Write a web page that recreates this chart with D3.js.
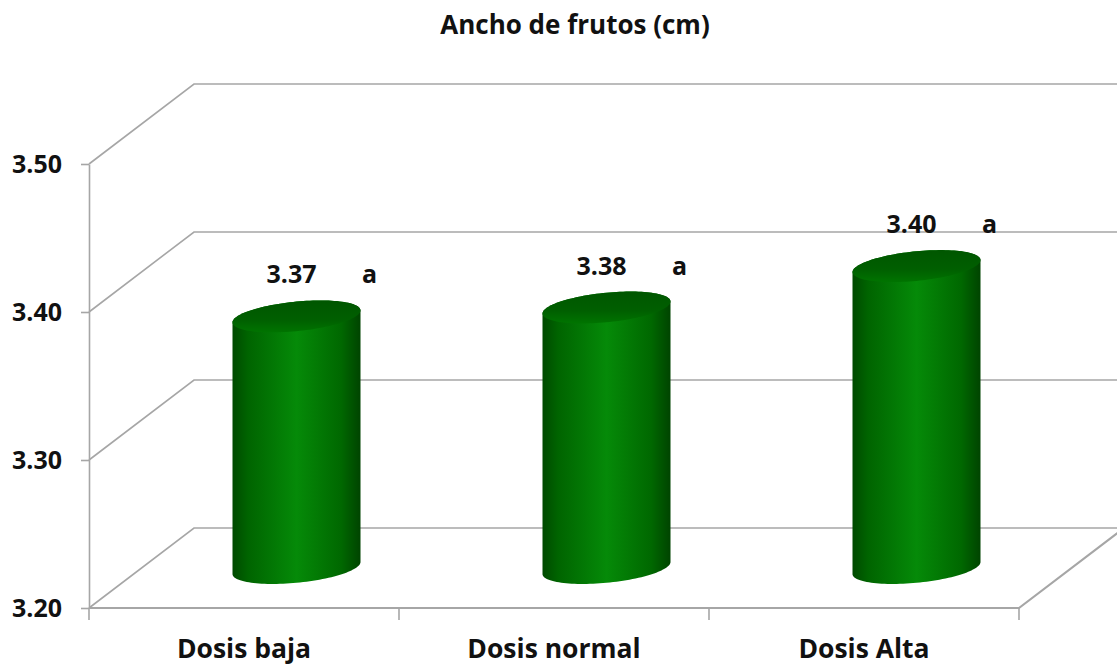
<!DOCTYPE html>
<html>
<head>
<meta charset="utf-8">
<script src="https://cdn.jsdelivr.net/npm/d3@7"></script>
<style>
  html, body { margin: 0; padding: 0; background: #fff; }
  svg { display: block; }
  text { font-family: "Open Sans", "Noto Sans", sans-serif; font-weight: 700; fill: #111; }
</style>
</head>
<body>
<svg id="chart" width="1117" height="667"></svg>
<script>
// ---- data ----
const title = "Ancho de frutos (cm)";
const categories = ["Dosis baja", "Dosis normal", "Dosis Alta"];
const values = [3.37, 3.376, 3.404];
const valueLabels = ["3.37", "3.38", "3.40"];
const letters = ["a", "a", "a"];
const yTicks = [3.20, 3.30, 3.40, 3.50];

// ---- layout ----
const W = 1117, H = 667;
const svg = d3.select("#chart");
const x0 = 89, x1 = 1019, yBottom = 608, yTop = 164;
const depthDx = 105, depthDy = -80;

const x = d3.scaleBand().domain(categories).range([x0, x1]).paddingInner(0).paddingOuter(0);
const y = d3.scaleLinear().domain([3.2, 3.5]).range([yBottom, yTop]);

const grid = "#a6a6a6";
const defs = svg.append("defs");
const bodyGrad = defs.append("linearGradient").attr("id", "body").attr("x1", 0).attr("x2", 1).attr("y1", 0).attr("y2", 0);
[[0, "#004a00"], [0.12, "#006400"], [0.5, "#058a08"], [0.85, "#006800"], [1, "#004400"]]
  .forEach(([o, c]) => bodyGrad.append("stop").attr("offset", o).attr("stop-color", c));
const topGrad = defs.append("linearGradient").attr("id", "top").attr("x1", 0).attr("x2", 0).attr("y1", 0).attr("y2", 1);
[[0, "#005600"], [0.6, "#005f00"], [1, "#007400"]]
  .forEach(([o, c]) => topGrad.append("stop").attr("offset", o).attr("stop-color", c));

// ---- gridlines (left wall diagonals + back wall horizontals) ----
const g = svg.append("g");
yTicks.forEach(t => {
  const yy = y(t);
  g.append("path")
    .attr("d", `M${x0},${yy} L${x0 + depthDx},${yy + depthDy} L${W + 5},${yy + depthDy}`)
    .attr("fill", "none").attr("stroke", grid).attr("stroke-width", 1.6);
});
// floor front edge + right diagonal
g.append("path")
  .attr("d", `M${x0},${yBottom} L${x1},${yBottom} L${x1 + depthDx},${yBottom + depthDy}`)
  .attr("fill", "none").attr("stroke", grid).attr("stroke-width", 2.2);
// value axis
const yAxis = d3.axisLeft(y).tickValues(yTicks).tickFormat(d3.format(".2f")).tickSizeInner(8).tickSizeOuter(0).tickPadding(10);
const ya = svg.append("g").attr("transform", `translate(${x0},0)`).call(yAxis);
ya.select(".domain").attr("stroke", grid).attr("stroke-width", 1.6);
ya.selectAll(".tick line").attr("stroke", grid).attr("stroke-width", 1.6);
ya.selectAll(".tick text").attr("font-size", 25).attr("font-weight", 700).attr("fill", "#111")
  .attr("font-family", "Open Sans").attr("x", -27);
// category axis
const xTickPos = [x0].concat(categories.map(c => x(c) + x.bandwidth()));
xTickPos.forEach(px => {
  g.append("line").attr("x1", px).attr("x2", px).attr("y1", yBottom).attr("y2", yBottom + 12)
    .attr("stroke", grid).attr("stroke-width", 1.6);
});
svg.append("g").selectAll("text").data(categories).join("text")
  .attr("x", d => x(d) + x.bandwidth() / 2)
  .attr("y", 658)
  .attr("text-anchor", "middle")
  .attr("font-size", 26.5)
  .text(d => d);

// ---- cylinders ----
const rx = 64, ry = 14.8, shear = 6;
function ellipsePts(cx, cy, t0, t1, n) {
  const pts = [];
  for (let i = 0; i <= n; i++) {
    const t = t0 + (t1 - t0) * i / n;
    pts.push([cx + rx * Math.cos(t), cy + ry * Math.sin(t) - shear * Math.cos(t)]);
  }
  return pts;
}
const line = d3.line();
const bars = svg.append("g");
categories.forEach((c, i) => {
  const cx = x(c) + x.bandwidth() / 2 + depthDx / 2;
  const cyTop = y(values[i]) + depthDy / 2;
  const cyBot = y(3.2) + depthDy / 2;
  const bodyPts = [];
  bodyPts.push([cx - rx, cyTop + shear]);
  ellipsePts(cx, cyBot, Math.PI, 0, 60).forEach(p => bodyPts.push(p));
  ellipsePts(cx, cyTop, 0, -Math.PI, 60).forEach(p => bodyPts.push(p));
  bars.append("path").attr("d", line(bodyPts) + "Z").attr("fill", "url(#body)");
  const topPts = ellipsePts(cx, cyTop, 0, 2 * Math.PI, 120);
  bars.append("path").attr("d", line(topPts) + "Z").attr("fill", "url(#top)");
  const topEdge = cyTop - Math.sqrt(ry * ry + shear * shear);
  svg.append("text").attr("x", cx - 5).attr("y", topEdge - 17).attr("text-anchor", "middle")
    .attr("font-size", 25).text(valueLabels[i]);
  svg.append("text").attr("x", cx + 73).attr("y", topEdge - 17).attr("text-anchor", "middle")
    .attr("font-size", 25).text(letters[i]);
});

// ---- title ----
svg.append("text").attr("x", 575).attr("y", 34).attr("text-anchor", "middle")
  .attr("font-size", 26).text(title);
</script>
</body>
</html>
